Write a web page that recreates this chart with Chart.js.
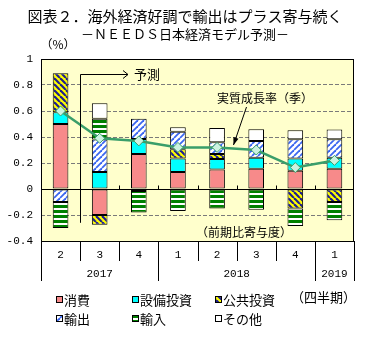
<!DOCTYPE html>
<html>
<head>
<meta charset="utf-8">
<script src="https://cdn.jsdelivr.net/npm/chart.js@4.4.1/dist/chart.umd.min.js"></script>
<style>
  html, body { margin: 0; padding: 0; background: #fff; }
  #chart { display: block; }
</style>
</head>
<body>
<canvas id="chart" width="369" height="341"></canvas>
<script>
// ─── DATA ──────────────────────────────────────────────────
const quarters   = ['2', '3', '4', '1', '2', '3', '4', '1'];
const years      = ['2017', '2018', '2019'];
const yearSpans  = [3, 4, 1];
const yTicks     = [-0.4, -0.2, 0, 0.2, 0.4, 0.6, 0.8, 1];

const consumption = [0.50, -0.20, 0.27, 0.13, 0.15, 0.155, 0.14, 0.155];
const equipment   = [0.09, 0.13, 0.115, 0.105, 0.08, 0.085, 0.095, 0.085];
const publicInv   = [0.30, -0.075, -0.015, 0.07, 0.04, null, -0.15, -0.10];
const exportsC    = [-0.10, 0.25, 0.155, 0.135, 0.09, 0.13, 0.147, 0.142];
const importsC    = [-0.20, 0.16, -0.165, -0.17, -0.15, -0.16, -0.135, -0.14];
const others      = [null, 0.12, null, 0.035, 0.11, 0.09, 0.07, 0.075];
const growth      = [0.60, 0.39, 0.37, 0.32, 0.32, 0.30, 0.165, 0.22];

// ─── PATTERNS ──────────────────────────────────────────────
function tile(size, bg, draw) {
  const c = document.createElement('canvas');
  c.width = size; c.height = size;
  const g = c.getContext('2d');
  g.fillStyle = bg;
  g.fillRect(0, 0, size, size);
  draw(g, size);
  return document.createElement('canvas').getContext('2d').createPattern(c, 'repeat');
}

const P = {
  consumption: '#F78A8A',
  equipment: '#00FFFF',
  publicInv: tile(6, '#FFFF00', (g, s) => {
    g.strokeStyle = '#1F1F8F'; g.lineWidth = 2.2;
    for (const k of [-s, 0, s]) { g.beginPath(); g.moveTo(k, 0); g.lineTo(k + s, s); g.stroke(); }
  }),
  exportsC: tile(6, '#FFFFFF', (g, s) => {
    g.strokeStyle = '#3A66F0'; g.lineWidth = 1.8;
    for (const k of [-s, 0, s]) { g.beginPath(); g.moveTo(k, s); g.lineTo(k + s, 0); g.stroke(); }
  }),
  importsC: tile(5, '#FFFFFF', (g, s) => {
    g.fillStyle = '#008000'; g.fillRect(0, 0, s, 3);
  }),
  others: '#FFFFFF',
};

const LINE = '#3A9E6A';

// ─── DECORATION PLUGIN ─────────────────────────────────────
const decor = {
  id: 'decor',
  beforeDraw(chart) {
    const { ctx, chartArea: a } = chart;
    ctx.save();
    ctx.fillStyle = '#fff';
    ctx.fillRect(0, 0, chart.width, chart.height);
    ctx.fillStyle = '#FFFFCC';
    ctx.fillRect(a.left, a.top, a.right - a.left, a.bottom - a.top);
    ctx.restore();
  },
  beforeDatasetsDraw(chart) {
    const { ctx, chartArea: a, scales: { x, y } } = chart;
    const y0 = Math.round(y.getPixelForValue(0)) + 0.5;
    ctx.save();
    ctx.strokeStyle = '#000';
    ctx.lineWidth = 1;
    ctx.beginPath();
    ctx.moveTo(a.left, y0); ctx.lineTo(a.right, y0);
    for (let i = 0; i < quarters.length - 1; i++) {
      const xb = Math.round(x.getPixelForValue(i + 0.5)) + 0.5;
      ctx.moveTo(xb, y0); ctx.lineTo(xb, y0 - 4);
    }
    ctx.stroke();
    ctx.restore();
  },
  afterDatasetsDraw(chart) {
    const { ctx, chartArea: a, scales: { x, y } } = chart;
    ctx.save();
    // frame
    ctx.strokeStyle = '#000';
    ctx.lineWidth = 1;
    ctx.strokeRect(a.left + 0.5, a.top + 0.5, a.right - a.left - 1, a.bottom - a.top);

    // category table
    const rowBottom1 = a.bottom + 20, rowBottom2 = a.bottom + 40;
    ctx.beginPath();
    let idx = 0;
    const bounds = [0];
    yearSpans.forEach(n => { idx += n; bounds.push(idx); });
    for (let i = 0; i <= quarters.length; i++) {
      const xb = Math.round(x.getPixelForValue(i - 0.5)) + 0.5;
      const long = bounds.includes(i);
      ctx.moveTo(xb, a.bottom);
      ctx.lineTo(xb, long ? rowBottom2 : rowBottom1);
    }
    ctx.stroke();
    ctx.fillStyle = '#000';
    ctx.font = '11px "Liberation Mono", monospace';
    ctx.textAlign = 'center';
    ctx.textBaseline = 'middle';
    quarters.forEach((q, i) => ctx.fillText(q, x.getPixelForValue(i), a.bottom + 14));
    years.forEach((yr, j) => {
      const cx = (x.getPixelForValue(bounds[j] - 0.5) + x.getPixelForValue(bounds[j + 1] - 0.5)) / 2;
      ctx.fillText(yr, cx, a.bottom + 33);
    });

    // titles
    const jp = px => px + 'px "Noto Sans CJK JP", sans-serif';
    ctx.font = jp(15);
    ctx.fillText('図表２．海外経済好調で輸出はプラス寄与続く', 185, 16);
    ctx.font = jp(13);
    ctx.fillText('－ＮＥＥＤＳ日本経済モデル予測－', 185, 34);
    ctx.font = jp(12);
    ctx.fillText('（%）', 58, 44);

    // forecast marker
    const xf = Math.round(x.getPixelForValue(0.5)) + 0.5;
    const yTop = Math.round(y.getPixelForValue(0.885)) + 0.5;
    ctx.beginPath();
    ctx.moveTo(xf, y.getPixelForValue(-0.26));
    ctx.lineTo(xf, yTop);
    ctx.lineTo(128, yTop);
    ctx.moveTo(123, yTop - 4); ctx.lineTo(128, yTop); ctx.lineTo(123, yTop + 4);
    ctx.stroke();
    ctx.textAlign = 'left';
    ctx.font = jp(13);
    ctx.fillText('予測', 134, yTop);

    // growth label + arrow
    ctx.font = jp(12);
    ctx.textAlign = 'center';
    ctx.fillText('実質成長率（季）', 265, 98);
    const x1 = 246.5, y1 = 107, x2 = 233.5, y2 = 145;
    const ang = Math.atan2(y2 - y1, x2 - x1);
    ctx.beginPath(); ctx.moveTo(x1, y1); ctx.lineTo(x2, y2); ctx.stroke();
    ctx.beginPath();
    ctx.moveTo(x2, y2);
    ctx.lineTo(x2 - 8 * Math.cos(ang - 0.35), y2 - 8 * Math.sin(ang - 0.35));
    ctx.lineTo(x2 - 8 * Math.cos(ang + 0.35), y2 - 8 * Math.sin(ang + 0.35));
    ctx.closePath(); ctx.fill();

    ctx.fillText('（前期比寄与度）', 244, 232);

    // legend
    const items = [
      ['消費', P.consumption, 56, 300], ['設備投資', P.equipment, 132, 300], ['公共投資', P.publicInv, 215, 300],
      ['輸出', P.exportsC, 56, 319], ['輸入', P.importsC, 132, 319], ['その他', P.others, 215, 319],
    ];
    ctx.textAlign = 'left';
    ctx.font = jp(13);
    items.forEach(([t, fill, lx, ly]) => {
      ctx.fillStyle = fill;
      ctx.fillRect(lx, ly - 4, 7, 7);
      ctx.strokeStyle = '#000';
      ctx.strokeRect(lx + 0.5, ly - 3.5, 6, 6);
      ctx.fillStyle = '#000';
      ctx.fillText(t, lx + 8, ly);
    });
    ctx.fillText('（四半期）', 291, 297);
    ctx.restore();
  },
};

// ─── CHART ─────────────────────────────────────────────────
const barSet = (label, data, bg) => ({
  type: 'bar', label, data, backgroundColor: bg,
  borderColor: '#000', borderWidth: 1, borderSkipped: false,
  barPercentage: 0.4, categoryPercentage: 1, order: 1,
});

new Chart(document.getElementById('chart'), {
  data: {
    labels: quarters,
    datasets: [
      {
        type: 'line', label: '実質成長率', data: growth,
        borderColor: LINE, borderWidth: 2.5, tension: 0,
        pointStyle: 'rectRot', pointRadius: 5,
        pointBackgroundColor: '#CCF2E0', pointBorderColor: LINE, pointBorderWidth: 1,
        order: 0,
      },
      barSet('消費', consumption, P.consumption),
      barSet('設備投資', equipment, P.equipment),
      barSet('公共投資', publicInv, P.publicInv),
      barSet('輸出', exportsC, P.exportsC),
      barSet('輸入', importsC, P.importsC),
      barSet('その他', others, P.others),
    ],
  },
  options: {
    responsive: false,
    animation: false,
    layout: { padding: { top: 59, right: 15, bottom: 100, left: 0 } },
    plugins: { legend: { display: false }, tooltip: { enabled: false } },
    scales: {
      x: { display: false, stacked: true, offset: true },
      y: {
        stacked: true, min: -0.4, max: 1,
        afterFit: s => { s.width = 41; },
        afterBuildTicks: s => { s.ticks = yTicks.map(v => ({ value: v })); },
        grid: {
          drawTicks: false,
          color: c => [0, 1, -0.4].includes(Math.round(c.tick.value * 10) / 10) ? 'rgba(0,0,0,0)' : '#7a7a7a',
        },
        border: { display: false, dash: [4, 2] },
        ticks: {
          padding: 8, color: '#000',
          font: { family: '"Liberation Mono", monospace', size: 11 },
          callback: v => String(+v.toFixed(1)),
        },
      },
    },
  },
  plugins: [decor],
});
</script>
</body>
</html>
